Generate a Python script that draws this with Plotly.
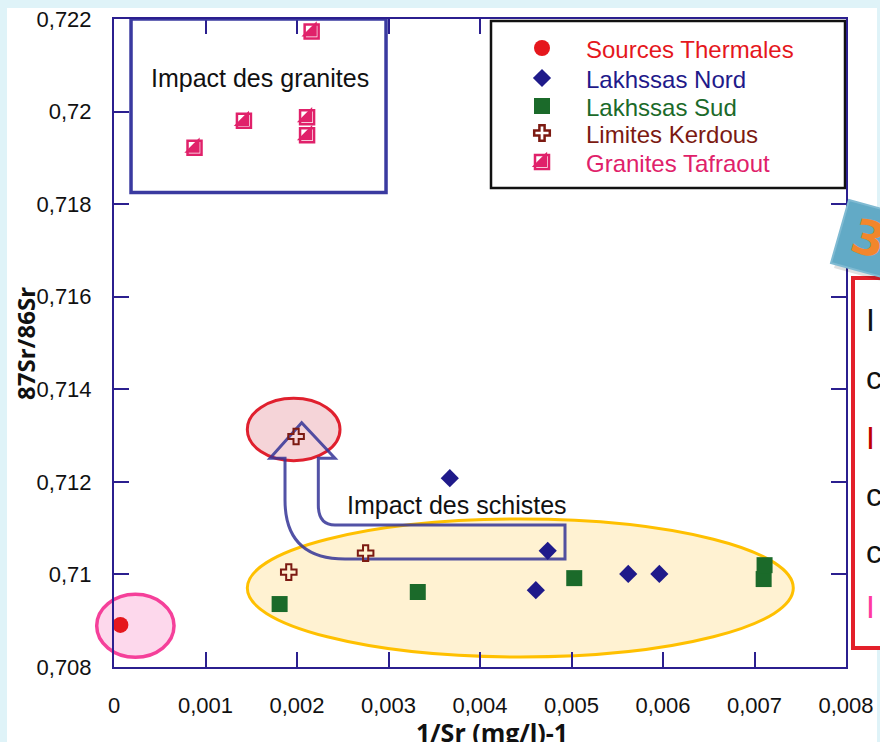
import plotly.graph_objects as go

# ---- data ---------------------------------------------------------------
thermal_x = [0.00007]
thermal_y = [0.70891]

nord_x = [0.00367, 0.00474, 0.00461, 0.00562, 0.00596]
nord_y = [0.71208, 0.71051, 0.70966, 0.71001, 0.71001]

sud_x = [0.00181, 0.00332, 0.00503, 0.00710, 0.00711]
sud_y = [0.70936, 0.70962, 0.70992, 0.70990, 0.71020]

kerdous_x = [0.00199, 0.00275, 0.00191]
kerdous_y = [0.71298, 0.71046, 0.71005]

granite_x = [0.00216, 0.00088, 0.00142, 0.00211, 0.00211]
granite_y = [0.72173, 0.71922, 0.71980, 0.71988, 0.71949]

series_names = ["Sources Thermales", "Lakhssas Nord", "Lakhssas Sud",
                "Limites Kerdous", "Granites Tafraout"]
series_colors = ["#e5171d", "#1f1a8a", "#1b6a2a", "#7c1a12", "#e0216a"]

x_ticks = [0, 0.001, 0.002, 0.003, 0.004, 0.005, 0.006, 0.007, 0.008]
x_ticktext = ["0", "0,001", "0,002", "0,003", "0,004", "0,005", "0,006", "0,007", "0,008"]
y_ticks = [0.708, 0.710, 0.712, 0.714, 0.716, 0.718, 0.720, 0.722]
y_ticktext = ["0,708", "0,71", "0,712", "0,714", "0,716", "0,718", "0,72", "0,722"]

X_RANGE = [0, 0.008]
Y_RANGE = [0.708, 0.722]

# ---- page geometry (pixels) ---------------------------------------------
W, H = 880, 742
L, R, T, B = 114, 34, 19, 75
PW, PH = W - L - R, H - T - B


def px(xp):
    return (xp - L) / PW


def py(yp):
    return (T + PH - yp) / PH


def dx(v):
    """data x -> paper x (for decorations that may leave the plot area)"""
    return (v - X_RANGE[0]) / (X_RANGE[1] - X_RANGE[0])


def dy(v):
    return (v - Y_RANGE[0]) / (Y_RANGE[1] - Y_RANGE[0])


AXIS = "#2b1f8f"
TICKFONT = dict(family="Liberation Sans, Arial, sans-serif", size=22, color="#111111")

fig = go.Figure()

# ---- data traces --------------------------------------------------------
fig.add_trace(go.Scatter(x=thermal_x, y=thermal_y, mode="markers", name=series_names[0],
                         marker=dict(symbol="circle", size=16, color=series_colors[0]),
                         cliponaxis=False))
fig.add_trace(go.Scatter(x=nord_x, y=nord_y, mode="markers", name=series_names[1],
                         marker=dict(symbol="diamond", size=14, color=series_colors[1])))
fig.add_trace(go.Scatter(x=sud_x, y=sud_y, mode="markers", name=series_names[2],
                         marker=dict(symbol="square", size=16, color=series_colors[2])))
fig.add_trace(go.Scatter(x=kerdous_x, y=kerdous_y, mode="markers", name=series_names[3],
                         marker=dict(symbol="cross-open", size=13, color=series_colors[3],
                                     line=dict(width=2, color=series_colors[3]))))
fig.add_trace(go.Scatter(x=granite_x, y=granite_y, mode="markers", name=series_names[4],
                         marker=dict(symbol="square-open", size=14, color=series_colors[4],
                                     line=dict(width=2.5, color=series_colors[4]))))
fig.add_trace(go.Scatter(x=granite_x, y=granite_y, mode="markers", showlegend=False,
                         marker=dict(symbol="triangle-se", size=17, color=series_colors[4],
                                     line=dict(width=0))))

# ---- hand-built legend on a pixel-scaled overlay axis -------------------
leg_rows = [48, 78, 106, 133, 162]
leg_sym_x = 542
leg_txt_x = 584
leg_symbols = ["circle", "diamond", "square", "cross-open", "square-open"]
leg_sizes = [16, 14, 16, 13, 14]
for i, name in enumerate(series_names):
    fig.add_trace(go.Scatter(x=[leg_sym_x], y=[leg_rows[i]], xaxis="x2", yaxis="y2",
                             mode="markers", showlegend=False, hoverinfo="skip",
                             marker=dict(symbol=leg_symbols[i], size=leg_sizes[i],
                                         color=series_colors[i],
                                         line=dict(width=2.5 if i >= 3 else 0,
                                                   color=series_colors[i]))))
    fig.add_annotation(x=leg_txt_x, y=leg_rows[i] + 1, xref="x2", yref="y2", text=name,
                       showarrow=False, xanchor="left", yanchor="middle",
                       font=dict(family="Liberation Sans, Arial, sans-serif", size=24,
                                 color=series_colors[i]))
fig.add_trace(go.Scatter(x=[leg_sym_x], y=[leg_rows[4]], xaxis="x2", yaxis="y2",
                         mode="markers", showlegend=False, hoverinfo="skip",
                         marker=dict(symbol="triangle-se", size=17, color=series_colors[4])))

shapes = []
# page background strips
CYAN = "#dff3f8"
shapes.append(dict(type="rect", xref="paper", yref="paper", x0=px(0), x1=px(7),
                   y0=py(H), y1=py(0), fillcolor=CYAN, line_width=0, layer="below"))
shapes.append(dict(type="rect", xref="paper", yref="paper", x0=px(0), x1=px(W),
                   y0=py(8), y1=py(0), fillcolor=CYAN, line_width=0, layer="below"))
shapes.append(dict(type="rect", xref="paper", yref="paper", x0=px(877), x1=px(W),
                   y0=py(H), y1=py(0), fillcolor=CYAN, line_width=0, layer="below"))

# groupings drawn around the samples (paper refs so they are not clipped)
shapes.append(dict(type="circle", xref="paper", yref="paper",
                   x0=dx(0.001457), x1=dx(0.007424), y0=dy(0.708216), y1=dy(0.711197),
                   fillcolor="#fff2d2", line=dict(color="#ffc000", width=3), layer="below"))
shapes.append(dict(type="circle", xref="paper", yref="paper",
                   x0=dx(-0.000189), x1=dx(0.000656), y0=dy(0.70821), y1=dy(0.70957),
                   fillcolor="#fdd8ec", line=dict(color="#f5409a", width=3.5), layer="below"))
shapes.append(dict(type="circle", xref="paper", yref="paper",
                   x0=dx(0.001457), x1=dx(0.00247), y0=dy(0.712457), y1=dy(0.713805),
                   fillcolor="#f5d4d8", line=dict(color="#e0202e", width=3), layer="below"))

# U-turn arrow: schist influence
arrow = ("M 0.002051,0.713278 L 0.001705,0.712509 L 0.001869,0.712509 "
         "L 0.001869,0.711608 Q 0.001869,0.710333 0.002525,0.710333 "
         "L 0.004929,0.710333 L 0.004929,0.711068 L 0.002415,0.711068 "
         "Q 0.002233,0.711068 0.002233,0.7115 L 0.002233,0.712509 "
         "L 0.002415,0.712509 Z")
shapes.append(dict(type="path", xref="x", yref="y", path=arrow,
                   line=dict(color="rgba(52,52,150,0.85)", width=3), layer="below"))

# granite frame
shapes.append(dict(type="rect", xref="x", yref="y", x0=0.000186, x1=0.002973,
                   y0=0.718251, y1=0.722, line=dict(color="#3a3aa0", width=3.5),
                   layer="above"))

# legend frame
shapes.append(dict(type="rect", xref="x2", yref="y2", x0=491, x1=845, y0=188, y1=21,
                   fillcolor="white", line=dict(color="#111111", width=2.5),
                   layer="below"))

# side panel on the right
shapes.append(dict(type="rect", xref="paper", yref="paper", x0=px(853), x1=px(895),
                   y0=py(648), y1=py(278), fillcolor="white",
                   line=dict(color="#e3202a", width=4), layer="above"))


# numbered badge
def badge_path(pts, ox=0, oy=0):
    p = [(px(a + ox), py(b + oy)) for a, b in pts]
    return "M " + " L ".join(f"{a:.5f},{b:.5f}" for a, b in p) + " Z"


badge = [(849, 200), (914, 218), (896, 281), (831, 263)]
shapes.append(dict(type="path", xref="paper", yref="paper", path=badge_path(badge, 3, 5),
                   fillcolor="rgba(0,0,0,0.12)", line_width=0, layer="above"))
shapes.append(dict(type="path", xref="paper", yref="paper", path=badge_path(badge),
                   fillcolor="#62aac6", line=dict(color="#7fbad2", width=2), layer="above"))

fig.update_layout(shapes=shapes)

# ---- text annotations ---------------------------------------------------
fig.add_annotation(x=260, y=78, xref="x2", yref="y2", text="Impact des granites",
                   showarrow=False, font=dict(family="Liberation Sans, Arial, sans-serif",
                                              size=25, color="#111111"))
fig.add_annotation(x=457, y=505, xref="x2", yref="y2", text="Impact des schistes",
                   showarrow=False, font=dict(family="Liberation Sans, Arial, sans-serif",
                                              size=25, color="#111111"))
fig.add_annotation(x=px(492), y=py(732), xref="paper", yref="paper",
                   xanchor="center", yanchor="middle",
                   text="<b>1/Sr (mg/l)-1</b>", showarrow=False,
                   font=dict(family="Open Sans, sans-serif", size=25, color="#111111"))
fig.add_annotation(x=px(25), y=py(344), xref="paper", yref="paper",
                   xanchor="center", yanchor="middle",
                   text="<b>87Sr/86Sr</b>", showarrow=False, textangle=-90,
                   font=dict(family="Open Sans, sans-serif", size=24, color="#111111"))
fig.add_annotation(x=px(868), y=py(238), xref="paper", yref="paper", text="<b>3</b>",
                   xanchor="center", yanchor="middle",
                   showarrow=False, textangle=16,
                   font=dict(family="DejaVu Sans, sans-serif", size=48, color="#f2862c"))

side_letters = ["I", "c", "I", "c", "c", "I"]
side_colors = ["#111111", "#111111", "#c00000", "#111111", "#111111", "#ff3aa0"]
side_rows = [320, 378, 438, 495, 552, 607]
for ch, col, yy in zip(side_letters, side_colors, side_rows):
    fig.add_annotation(x=px(864), y=py(yy), xref="paper", yref="paper", text=ch,
                       showarrow=False, xanchor="left", yanchor="middle",
                       font=dict(family="Liberation Sans, Arial, sans-serif", size=32,
                                 color=col))

# ---- axes ---------------------------------------------------------------
common = dict(showgrid=False, zeroline=False, fixedrange=True, automargin=False)
fig.update_layout(
    width=W, height=H, autosize=False,
    margin=dict(l=L, r=R, t=T, b=B, autoexpand=False),
    paper_bgcolor="white", plot_bgcolor="white",
    showlegend=False, separators=", ",
    xaxis=dict(range=X_RANGE, tickvals=x_ticks, ticktext=x_ticktext,
               showline=True, linecolor=AXIS, linewidth=2, mirror=True,
               ticks="inside", ticklen=15, tickwidth=2, tickcolor=AXIS,
               tickfont=TICKFONT, ticklabelstandoff=18, **common),
    yaxis=dict(range=Y_RANGE, tickvals=y_ticks, ticktext=y_ticktext,
               showline=True, linecolor=AXIS, linewidth=2, mirror=True,
               ticks="inside", ticklen=15, tickwidth=2, tickcolor=AXIS,
               tickfont=TICKFONT, ticklabelstandoff=16, **common),
    # mirrored tick marks on the top and right edges (hidden behind the legend)
    xaxis3=dict(overlaying="x", anchor="y", side="top", range=X_RANGE,
                tickvals=[v for v in x_ticks if v < 0.0045], showticklabels=False,
                ticks="inside", ticklen=15, tickwidth=2, tickcolor=AXIS,
                showline=False, **common),
    yaxis3=dict(overlaying="y", anchor="x", side="right", range=Y_RANGE,
                tickvals=[v for v in y_ticks if v < 0.719], showticklabels=False,
                ticks="inside", ticklen=15, tickwidth=2, tickcolor=AXIS,
                showline=False, **common),
    # pixel-scaled overlay used for the legend and labels
    xaxis2=dict(overlaying="x", range=[L, L + PW], visible=False, **common),
    yaxis2=dict(overlaying="y", range=[T + PH, T], visible=False, **common),
)
# give the tick-only axes something to attach to
fig.add_trace(go.Scatter(x=[None], y=[None], xaxis="x3", yaxis="y3", showlegend=False))

fig.write_html("out.html")
